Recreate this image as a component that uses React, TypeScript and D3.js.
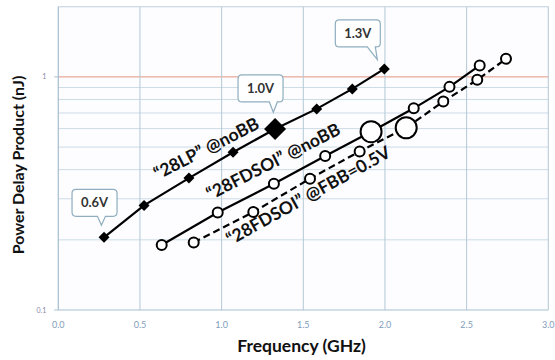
import React from "react";
import * as d3 from "d3";

const lpFreq = [0.28, 0.525, 0.8, 1.07, 1.327, 1.582, 1.8, 1.996];
const lpPdp = [0.205, 0.281, 0.368, 0.475, 0.598, 0.729, 0.888, 1.082];
const fdFreq = [0.633, 0.976, 1.32, 1.634, 1.915, 2.176, 2.395, 2.58];
const fdPdp = [0.19, 0.262, 0.348, 0.458, 0.582, 0.733, 0.906, 1.12];
const fbbFreq = [0.829, 1.194, 1.541, 1.845, 2.13, 2.357, 2.565, 2.741];
const fbbPdp = [0.195, 0.263, 0.366, 0.479, 0.605, 0.784, 0.971, 1.195];
const bigIndexLP = 4;
const bigIndexFD = 4;
const bigIndexFBB = 4;
const xTicks = [0, 0.5, 1.0, 1.5, 2.0, 2.5, 3.0];
const yTickLabels = [0.1, 1];
const yGrid = [0.2, 0.3, 0.4, 0.5, 0.6, 0.7, 0.8, 0.9, 1, 2];
const callouts = [
  { label: "0.6V", idx: 0 },
  { label: "1.0V", idx: 4 },
  { label: "1.3V", idx: 7 },
];
const calloutLayout = [
  { dx: -32, dy: -48, tipDx: -2.6, tipDy: -12 },
  { dx: -37, dy: -54, tipDx: -1.7, tipDy: -16.6 },
  { dx: -49, dy: -49, tipDx: -7, tipDy: -9.3 },
];
const seriesLabels = [
  { text: "\u201C28LP\u201D @noBB", cx: 207, cy: 150, angle: -27 },
  { text: "\u201C28FDSOI\u201D @noBB", cx: 274, cy: 163, angle: -27 },
  { text: "\u201C28FDSOI\u201D @FBB=0.5V", cx: 309, cy: 197, angle: -29 },
];

const FONT = "Lato, 'Open Sans', sans-serif";

export default function App() {
  const left = 58.3, right = 548.3, top = 6.7, bottom = 310;
  const x = d3.scaleLinear().domain([0, 3]).range([left, right]);
  const y = d3.scaleLog().domain([0.1, 2]).range([bottom, top]);
  const line = d3.line<[number, number]>().x((d) => x(d[0])).y((d) => y(d[1]));
  const lp = lpFreq.map((f, i) => [f, lpPdp[i]] as [number, number]);
  const fd = fdFreq.map((f, i) => [f, fdPdp[i]] as [number, number]);
  const fbb = fbbFreq.map((f, i) => [f, fbbPdp[i]] as [number, number]);
  const diamond = (cx: number, cy: number, r: number) =>
    `M${cx},${cy - r}L${cx + r},${cy}L${cx},${cy + r}L${cx - r},${cy}Z`;

  return (
    <svg width={555} height={360} style={{ position: "absolute", left: 0, top: 0, background: "#fff" }}>
      <rect x={left} y={top} width={right - left} height={bottom - top} fill="#fdfdff" />
      {yGrid.map((v) => (
        <line key={"yg" + v} x1={left} x2={right} y1={y(v)} y2={y(v)}
          stroke={v === 1 ? "#e0957f" : "#cddbe6"} strokeWidth={1} />
      ))}
      {xTicks.map((v) => (
        <line key={"xg" + v} x1={x(v)} x2={x(v)} y1={top} y2={bottom} stroke="#b3c8d6" strokeWidth={1} />
      ))}
      <line x1={left} x2={right} y1={top} y2={top} stroke="#cddbe6" />
      <line x1={left} x2={right} y1={bottom} y2={bottom} stroke="#a9c0d0" />
      <line x1={left} x2={left} y1={top} y2={bottom} stroke="#a9c0d0" />
      {yTickLabels.map((v) => (
        <g key={"yt" + v}>
          <line x1={left - 4} x2={left} y1={y(v)} y2={y(v)} stroke="#a9c0d0" />
          <text x={left - 12} y={y(v) + 2.5} fontSize={7} fill="#8a86a8" textAnchor="end" fontFamily={FONT}>{v}</text>
        </g>
      ))}
      {xTicks.map((v) => (
        <text key={"xt" + v} x={x(v)} y={328} fontSize={9} fill="#7f9dbb" textAnchor="middle" fontFamily={FONT}>{v.toFixed(1)}</text>
      ))}
      <text x={301.5} y={352} fontSize={17.5} fontWeight="bold" textAnchor="middle" fontFamily={FONT} fill="#111">Frequency (GHz)</text>
      <text transform="translate(24,165) rotate(-90)" fontSize={16} fontWeight="bold" textAnchor="middle" fontFamily={FONT} fill="#111">Power Delay Product (nJ)</text>

      <path d={line(lp) || ""} fill="none" stroke="#000" strokeWidth={2.2} />
      <path d={line(fd) || ""} fill="none" stroke="#000" strokeWidth={2.2} />
      <path d={line(fbb) || ""} fill="none" stroke="#000" strokeWidth={2.2} strokeDasharray="7,4" />

      {lp.map((d, i) => (
        <path key={"lp" + i} d={diamond(x(d[0]), y(d[1]), i === bigIndexLP ? 11 : 5.5)} fill="#000" />
      ))}
      {fd.map((d, i) => (
        <circle key={"fd" + i} cx={x(d[0])} cy={y(d[1])} r={i === bigIndexFD ? 10.5 : 5} fill="#fff" stroke="#000" strokeWidth={2} />
      ))}
      {fbb.map((d, i) => (
        <circle key={"fb" + i} cx={x(d[0])} cy={y(d[1])} r={i === bigIndexFBB ? 10.5 : 5} fill="#fff" stroke="#000" strokeWidth={2} />
      ))}

      {seriesLabels.map((s) => (
        <text key={s.text} transform={`translate(${s.cx},${s.cy}) rotate(${s.angle})`} textAnchor="middle"
          dominantBaseline="middle" fontSize={17.5} fontWeight="bold" fontFamily={FONT} fill="#111">{s.text}</text>
      ))}

      {callouts.map((c, k) => {
        const px = x(lp[c.idx][0]);
        const py = y(lp[c.idx][1]);
        const L = calloutLayout[k];
        const bx = px + L.dx, by = py + L.dy, bw = 45, bh = 27, r = 4;
        const tx = px + L.tipDx, ty = py + L.tipDy;
        const baseC = Math.min(Math.max(tx, bx + r + 5), bx + bw - r - 5);
        const b1 = baseC - 4, b2 = baseC + 4;
        const bb = by + bh;
        const d = `M${bx + r},${by}H${bx + bw - r}Q${bx + bw},${by} ${bx + bw},${by + r}V${bb - r}Q${bx + bw},${bb} ${bx + bw - r},${bb}H${b2}L${tx},${ty}L${b1},${bb}H${bx + r}Q${bx},${bb} ${bx},${bb - r}V${by + r}Q${bx},${by} ${bx + r},${by}Z`;
        return (
          <g key={c.label}>
            <path d={d} fill="#fff" stroke="#8eaebf" strokeWidth={1.2} />
            <text x={bx + bw / 2} y={by + bh / 2 + 4.5} textAnchor="middle" fontSize={13} fontWeight="bold" fontFamily={FONT} fill="#333">{c.label}</text>
          </g>
        );
      })}
    </svg>
  );
}
